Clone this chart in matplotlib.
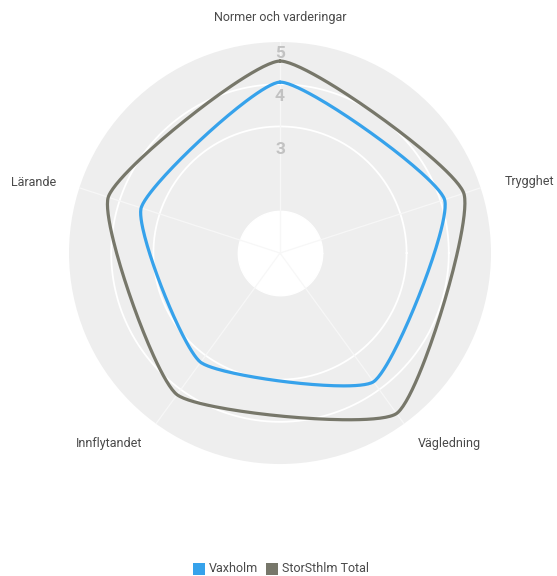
import numpy as np
import matplotlib
matplotlib.use("Agg")
import matplotlib.pyplot as plt
from matplotlib.patches import Rectangle

plt.rcParams['font.family'] = ['Roboto', 'DejaVu Sans']

# Data
categories = ["Normer och varderingar", "Trygghet", "Vägledning", "Innflytandet", "Lärande"]
vaxholm = [4.05, 4.10, 3.77, 3.20, 3.46]
storsthlm = [4.55, 4.58, 4.70, 4.15, 4.28]
series_names = ["Vaxholm", "StorSthlm Total"]
series_colors = ["#36a2eb", "#77776a"]
tick_values = [3, 4, 5]

r_max = 5
tension = 0.16

n = len(categories)
# angles counted counter-clockwise from the x axis, first category at the top, then clockwise
phi = np.pi / 2 - np.arange(n) * 2 * np.pi / n


def smooth_loop(values, t=tension, steps=60):
    """Closed bezier spline through the radar points (cartesian), returned as (theta, r)."""
    v = np.asarray(values, float)
    pts = np.column_stack([v * np.cos(phi), v * np.sin(phi)])
    m = len(pts)
    cp_in, cp_out = [], []
    for i in range(m):
        prev, cur, nxt = pts[i - 1], pts[i], pts[(i + 1) % m]
        d01 = np.hypot(*(cur - prev))
        d12 = np.hypot(*(nxt - cur))
        s01 = d01 / (d01 + d12)
        s12 = d12 / (d01 + d12)
        cp_in.append(cur - t * s01 * (nxt - prev))
        cp_out.append(cur + t * s12 * (nxt - prev))
    u = np.linspace(0, 1, steps)[:, None]
    segs = []
    for i in range(m):
        p0, p3 = pts[i], pts[(i + 1) % m]
        c1, c2 = cp_out[i], cp_in[(i + 1) % m]
        seg = ((1 - u) ** 3) * p0 + 3 * ((1 - u) ** 2) * u * c1 + 3 * (1 - u) * u ** 2 * c2 + u ** 3 * p3
        segs.append(seg)
    xy = np.vstack(segs)
    return np.arctan2(xy[:, 1], xy[:, 0]), np.hypot(xy[:, 0], xy[:, 1])


fig = plt.figure(figsize=(5.57, 5.76), dpi=100)
ax = fig.add_axes([0.1239, 0.1944, 0.7576, 0.7326], projection="polar")
ax.set_ylim(0, r_max)
ax.set_facecolor("#eeeeee")
ax.spines["polar"].set_visible(False)
ax.grid(False)
ax.set_xticks([])
ax.set_yticks([])

full = np.linspace(0, 2 * np.pi, 400)
# white centre
ax.fill_between(full, 0, 1, color="white", zorder=1)
# circular grid
for rv in [3, 4]:
    ax.plot(full, np.full_like(full, rv), color="white", lw=1.3, zorder=2)
# spokes
for a in phi:
    ax.plot([a, a], [0, r_max], color="#f7f7f7", lw=0.9, zorder=2)

# radial tick labels along the top spoke
tick_label_r = {5: 4.74, 4: 3.70, 3: 2.45}
for tv in tick_values:
    ax.text(np.pi / 2, tick_label_r[tv], str(tv), ha="center", va="center",
            fontsize=12.5, color="#c2c2c2", fontweight="bold", zorder=3)

for vals, col in zip([vaxholm, storsthlm], series_colors):
    th, rr = smooth_loop(vals)
    ax.plot(th, rr, color=col, lw=2.3, zorder=4, solid_capstyle="round")

# category labels
label_pos = [
    (280, 18, "center"),
    (505, 182, "left"),
    (418, 443, "left"),
    (142, 443, "right"),
    (56, 182, "right"),
]
W, H = 557, 576
for name, (px, py, ha) in zip(categories, label_pos):
    fig.text(px / W, 1 - py / H, name, ha=ha, va="center", fontsize=9, color="#4a4a4a")

# legend
lx = 193
for name, col in zip(series_names, series_colors):
    fig.patches.append(Rectangle((lx / W, 1 - 575 / H), 12 / W, 12 / H,
                                 transform=fig.transFigure, facecolor=col, edgecolor="none"))
    fig.text((lx + 16) / W, 1 - 569 / H, name, ha="left", va="center",
             fontsize=9, color="#4a4a4a")
    lx += 73

fig.savefig("out.png", dpi=100)
